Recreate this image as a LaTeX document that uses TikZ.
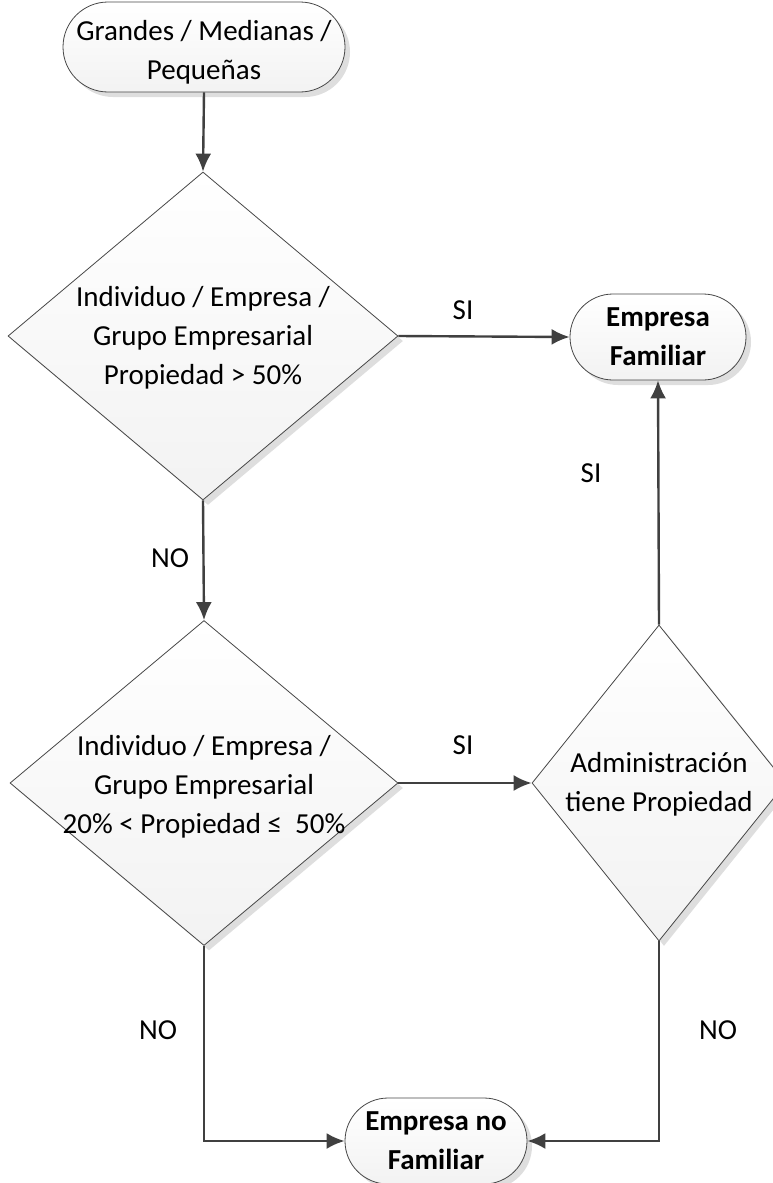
\documentclass[tikz,border=0pt]{standalone}
\usepackage{fontspec}
\setmainfont{Carlito}
\usetikzlibrary{arrows.meta,shapes.geometric,shadows}
\begin{document}
\begin{tikzpicture}[x=1pt,y=-1pt,
  txt/.style={font=\fontsize{29}{39}\selectfont, align=center, inner sep=0pt, text=black},
  btxt/.style={font=\fontsize{29}{39}\selectfont\bfseries, align=center, inner sep=0pt, text=black},
  shapeline/.style={draw=black!72, line width=0.8pt},
  boxfill/.style={top color=white, bottom color=black!5,
    drop shadow={shadow xshift=5pt, shadow yshift=-5pt, fill=black!13, opacity=1}},
  term/.style={rectangle, shapeline, boxfill, inner sep=0pt, rounded corners=#1},
  dec/.style={diamond, shapeline, boxfill, inner sep=0pt},
  conn/.style={draw=black!75, line width=2.4pt, -{Latex[length=18pt,width=16pt]}},
  lbl/.style={font=\fontsize{29}{39}\selectfont, inner sep=0pt, text=black}]
\useasboundingbox (0,0) rectangle (773,1183);

% terminals
\node[term=45pt, minimum width=282pt, minimum height=90pt] (t1) at (204,47) {};
\node[txt] (t1t) at ([yshift=-5pt]t1.center) {Grandes / Medianas /\\Peque\~nas};

\node[term=43pt, minimum width=176pt, minimum height=86pt] (ef) at (658,337) {};
\node[btxt] (eft) at (ef.center) {Empresa\\Familiar};

\node[term=43pt, minimum width=182pt, minimum height=86pt] (enf) at (436,1141) {};
\node[btxt] (enft) at (enf.center) {Empresa no\\Familiar};

% decisions
\node[dec, minimum width=390pt, minimum height=328pt] (d1) at (203,336) {};
\node[txt] (d1t) at ([yshift=-2pt]d1.center) {Individuo / Empresa /\\Grupo Empresarial\\Propiedad > 50\%};

\node[dec, minimum width=388pt, minimum height=325pt] (d2) at (204,783) {};
\node[txt] (d2t) at ([yshift=-4pt]d2.center) {Individuo / Empresa /\\Grupo Empresarial\\20\% < Propiedad ≤\ \ 50\%};

\node[dec, minimum width=254pt, minimum height=316pt] (d3) at (659,783) {};
\node[txt] (d3t) at ([yshift=-1pt]d3.center) {Administración\\tiene Propiedad};

% connectors
\draw[conn] (t1.south) -- (d1.north);
\draw[conn] (d1.east) -- (ef.west);
\draw[conn] (d1.south) -- (d2.north);
\draw[conn] (d2.east) -- (d3.west);
\draw[conn] (d3.north) -- (ef.south);
\draw[conn] (d2.south) |- (enf.west);
\draw[conn] (d3.south) |- (enf.east);

% labels
\node[lbl] (l1) at (463,310) {SI};
\node[lbl] (l2) at (463,745) {SI};
\node[lbl] (l3) at (591,473) {SI};
\node[lbl] (l4) at (170,558) {NO};
\node[lbl] (l5) at (158,1030) {NO};
\node[lbl] (l6) at (718,1030) {NO};
\end{tikzpicture}
\end{document}
